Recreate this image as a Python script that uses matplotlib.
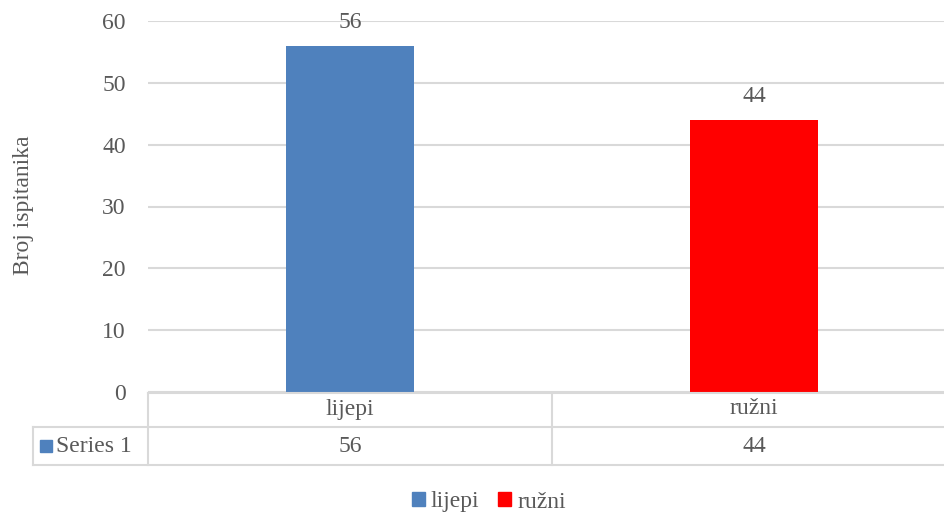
import matplotlib.pyplot as plt
from matplotlib.lines import Line2D
from matplotlib.patches import Rectangle
import matplotlib.transforms as mtransforms

# chart data
categories = ["lijepi", "ružni"]
values = [56, 44]
bar_colors = ["#4f81bd", "#ff0000"]
series_name = "Series 1"
y_ticks = [0, 10, 20, 30, 40, 50, 60]
y_label = "Broj ispitanika"

W, H = 945, 519
TXT = "#595959"
GRID = "#d9d9d9"
FS = 17
plt.rcParams["font.family"] = ["Liberation Serif", "DejaVu Serif"]

fig = plt.figure(figsize=(W / 100, H / 100), dpi=100)


def fy(py):
    # pixel row from top -> figure fraction
    return 1 - py / H


ax = fig.add_axes([148 / W, fy(392), (W - 148) / W, fy(21) - fy(392)])
x = list(range(len(categories)))
ax.bar(x, values, width=0.317, color=bar_colors, zorder=3)
ax.set_xlim(-0.5, (W - 350) / 404)
ax.set_ylim(0, 60)
ax.set_yticks(y_ticks)
ax.set_yticklabels([str(t) for t in y_ticks], fontsize=FS, color=TXT)
ax.tick_params(axis="y", length=0, pad=16)
ax.set_xticks([])
for s in ax.spines.values():
    s.set_visible(False)
ax.grid(axis="y", color=GRID, linewidth=1.5, zorder=0)
ax.set_axisbelow(True)
ax.set_ylabel(y_label, fontsize=FS, color=TXT)
ax.yaxis.set_label_coords(34 / W, fy(205), transform=fig.transFigure)

for xi, v in zip(x, values):
    ax.annotate(str(v), (xi, v), xytext=(0, 9), textcoords="offset points",
                ha="center", va="bottom", fontsize=FS, color=TXT)

# data table below the axis
blend = mtransforms.blended_transform_factory(ax.transData, fig.transFigure)
row_lines = [393, 427, 465]
for i, py in enumerate(row_lines):
    x0 = 148 if i == 0 else 33
    fig.add_artist(Line2D([x0 / W, 1], [fy(py), fy(py)], color=GRID, linewidth=1.5,
                          transform=fig.transFigure))
fig.add_artist(Line2D([148 / W, 148 / W], [fy(393), fy(465)], color=GRID, linewidth=1.5,
                      transform=fig.transFigure))
fig.add_artist(Line2D([33 / W, 33 / W], [fy(427), fy(465)], color=GRID, linewidth=1.5,
                      transform=fig.transFigure))
for xi in x[1:]:
    fig.add_artist(Line2D([xi - 0.5, xi - 0.5], [fy(393), fy(465)], color=GRID,
                          linewidth=1.5, transform=blend))

for xi, cat, v in zip(x, categories, values):
    fig.text(xi, fy(409), cat, transform=blend, ha="center", va="center",
             fontsize=FS, color=TXT)
    fig.text(xi, fy(446), str(v), transform=blend, ha="center", va="center",
             fontsize=FS, color=TXT)

fig.add_artist(Rectangle((40 / W, fy(452)), 12 / W, 12 / H, color=bar_colors[0],
                         transform=fig.transFigure))
fig.text(56 / W, fy(446), series_name, ha="left", va="center", fontsize=FS, color=TXT)

# legend
handles = [Rectangle((0, 0), 1, 1, color=c) for c in bar_colors]
fig.legend(handles, categories, loc="center", bbox_to_anchor=(489 / W, fy(502)),
           ncol=2, frameon=False, fontsize=FS, handlelength=0.55, handleheight=0.55,
           handletextpad=0.25, columnspacing=0.8,
           labelcolor=TXT)

fig.savefig("out.png", dpi=100)
